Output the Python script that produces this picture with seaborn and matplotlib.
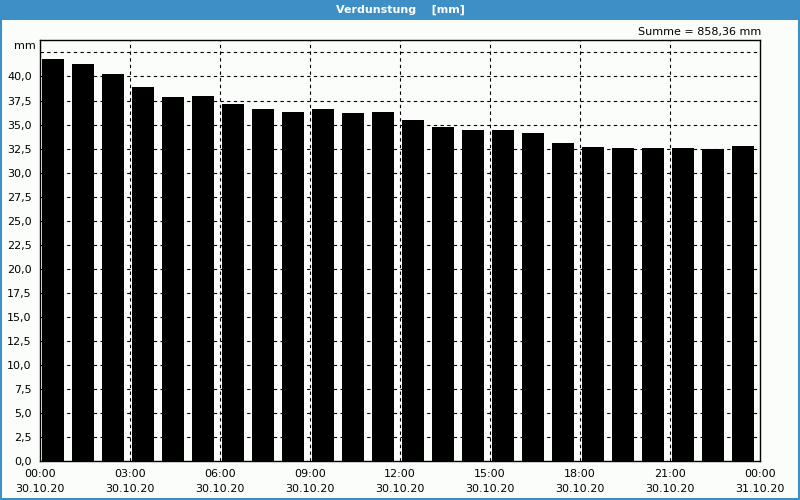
import numpy as np
import pandas as pd
import seaborn as sns
import matplotlib.pyplot as plt

# hourly evaporation values, 30.10.20 00:00 .. 23:00
hours = list(range(24))
values = [41.84, 41.32, 40.28, 38.93, 37.89, 37.99, 37.16, 36.64, 36.32, 36.64, 36.22, 36.32,
          35.49, 34.76, 34.45, 34.45, 34.14, 33.10, 32.68, 32.57, 32.57, 32.57, 32.47, 32.78]
tick_hours = [0, 3, 6, 9, 12, 15, 18, 21, 24]
tick_labels = ['00:00\n30.10.20', '03:00\n30.10.20', '06:00\n30.10.20', '09:00\n30.10.20',
               '12:00\n30.10.20', '15:00\n30.10.20', '18:00\n30.10.20', '21:00\n30.10.20',
               '00:00\n31.10.20']
y_ticks = [0, 2.5, 5, 7.5, 10, 12.5, 15, 17.5, 20, 22.5, 25, 27.5, 30, 32.5, 35, 37.5, 40]
summe = '858,36'

df = pd.DataFrame({'hour': hours, 'value': values})

sns.set_style("white")
plt.rcParams['font.family'] = ['DejaVu Sans']
plt.rcParams['text.color'] = 'black'
plt.rcParams['xtick.color'] = 'black'
plt.rcParams['ytick.color'] = 'black'

bg = '#fbfdfb'
blue = '#3d8fc6'
fig = plt.figure(figsize=(8, 5), dpi=100, facecolor=bg)
ax = fig.add_axes([0.05, 0.0786, 0.90, 0.8414])
ax.set_facecolor(bg)
ax.set_axisbelow(True)

sns.barplot(data=df, x='hour', y='value', color='black', width=0.73, saturation=1,
            linewidth=0, edgecolor='black', ax=ax)
for p in ax.patches:
    p.set_zorder(3)

off = 0.43  # bars sit slightly right of the hour mark
ax.set_xlim(-off, 24 - off)
ax.set_ylim(0, 43.8)

# grid
for h in tick_hours[1:-1]:
    ax.axvline(h - off, color='black', lw=0.8, ls=(0, (3, 3)), zorder=1)
for y in y_ticks[1:] + [42.5]:
    ax.axhline(y, color='black', lw=0.8, ls=(0, (3, 3)), zorder=1)

ax.set_xticks([h - off for h in tick_hours])
ax.set_xticklabels(tick_labels, fontsize=8, linespacing=1.6)
ax.set_xticks([h - off for h in range(25)], minor=True)
ax.set_yticks(y_ticks)
ax.set_yticklabels([f'{v:.1f}'.replace('.', ',') for v in y_ticks], fontsize=8)
ax.tick_params(axis='both', which='both', direction='out', length=4, width=0.8, color='black', pad=2)
ax.set_xlabel('')
ax.set_ylabel('')
for s in ax.spines.values():
    s.set_color('black')
    s.set_linewidth(1)

fig.text(0.045, 0.908, 'mm', ha='right', va='center', fontsize=8)
fig.text(0.951, 0.936, f'Summe = {summe} mm', ha='right', va='center', fontsize=8)

# title bar + frame
fig.patches.append(plt.Rectangle((0, 0.96), 1, 0.04, transform=fig.transFigure,
                                 facecolor=blue, edgecolor='none', zorder=0))
fig.patches.append(plt.Rectangle((0.001, 0.002), 0.998, 0.996, transform=fig.transFigure,
                                 facecolor='none', edgecolor=blue, lw=1.5, zorder=0))
fig.text(0.5, 0.98, 'Verdunstung    [mm]', color='white', fontsize=8, fontweight='bold',
         ha='center', va='center')

fig.savefig('out.png', dpi=100, facecolor=bg)
